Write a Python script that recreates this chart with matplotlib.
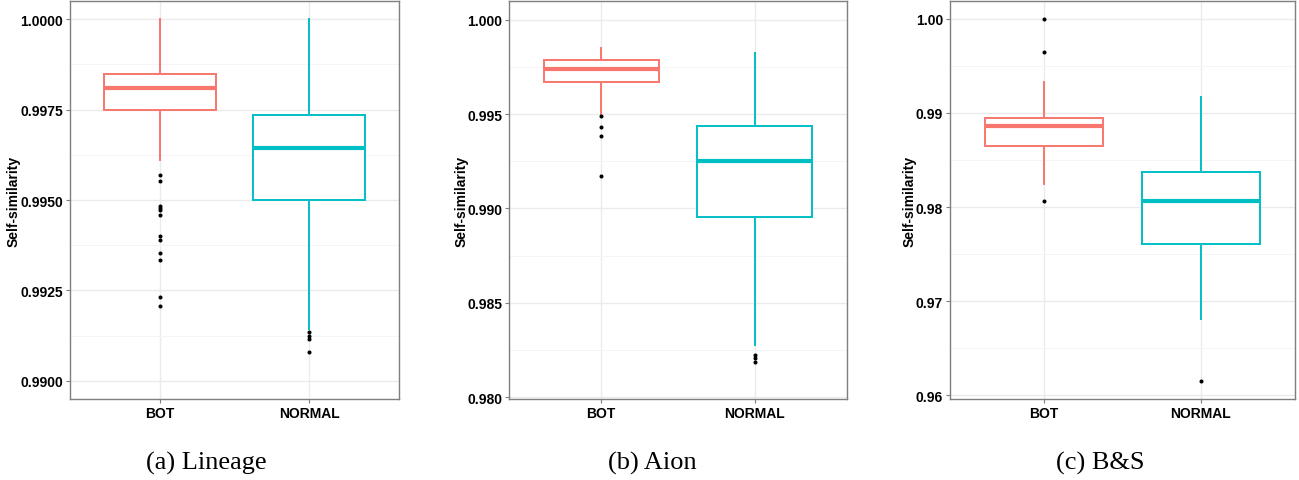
"""Self-similarity box plots for BOT vs NORMAL players in three games."""

import matplotlib
matplotlib.use("Agg")
import matplotlib.pyplot as plt
from matplotlib.ticker import MultipleLocator

groups = ["BOT", "NORMAL"]
colors = ["#F8766D", "#00BFC4"]
games = ["(a) Lineage", "(b) Aion", "(c) B&S"]

# box stats per game: [BOT, NORMAL] -> (whislo, q1, med, q3, whishi)
lineage_stats = [(0.99611, 0.99749, 0.99810, 0.99848, 1.0000),
                 (0.99144, 0.99499, 0.99645, 0.99736, 1.0000)]
lineage_fliers = [[0.99570, 0.99552, 0.99484, 0.99478, 0.99473, 0.99459,
                   0.99401, 0.99389, 0.99354, 0.99335, 0.99233, 0.99206],
                  [0.99134, 0.99125, 0.99116, 0.99081]]

aion_stats = [(0.99503, 0.99673, 0.99742, 0.99785, 0.99853),
              (0.98276, 0.98953, 0.99253, 0.99435, 0.99825)]
aion_fliers = [[0.99488, 0.99430, 0.99383, 0.99170],
               [0.98221, 0.98206, 0.98188]]

bns_stats = [(0.98243, 0.98653, 0.98866, 0.98951, 0.99334),
             (0.96807, 0.97611, 0.98069, 0.98370, 0.99174)]
bns_fliers = [[1.0000, 0.99646, 0.98065],
              [0.96152]]

all_stats = [lineage_stats, aion_stats, bns_stats]
all_fliers = [lineage_fliers, aion_fliers, bns_fliers]

ylims = [(0.98950, 1.00050), (0.97990, 1.00100), (0.95960, 1.00190)]
yticks = [[0.9900, 0.9925, 0.9950, 0.9975, 1.0000],
          [0.980, 0.985, 0.990, 0.995, 1.000],
          [0.96, 0.97, 0.98, 0.99, 1.00]]
ytick_fmt = ["{:.4f}", "{:.3f}", "{:.2f}"]
minor_step = [0.00125, 0.0025, 0.005]

W, H = 1299, 481
# axes boxes in pixels: left, right, top, bottom
boxes_px = [(70, 399, 2, 400), (509, 847, 2, 400), (950, 1295, 2, 400)]
ylabel_x = [-0.149, -0.121, -0.096]
caption_x = [206, 652, 1100]

plt.rcParams["font.family"] = ["Liberation Sans", "DejaVu Sans"]
fig = plt.figure(figsize=(W / 100, H / 100), dpi=100, facecolor="white")

for k in range(3):
    l, r, t, b = boxes_px[k]
    ax = fig.add_axes([l / W, (H - b) / H, (r - l) / W, (b - t) / H])

    stats = []
    for i, g in enumerate(groups):
        lo, q1, med, q3, hi = all_stats[k][i]
        stats.append(dict(label=g, whislo=lo, q1=q1, med=med, q3=q3,
                          whishi=hi, fliers=all_fliers[k][i]))

    for i in range(2):
        c = colors[i]
        ax.bxp([stats[i]], positions=[i + 1], widths=0.75, showcaps=False,
               patch_artist=True,
               boxprops=dict(facecolor="white", edgecolor=c, linewidth=1.4),
               whiskerprops=dict(color=c, linewidth=1.4),
               medianprops=dict(color=c, linewidth=3.0, solid_capstyle="butt"),
               flierprops=dict(marker="o", markersize=1.9, markerfacecolor="black",
                               markeredgecolor="black", linestyle="none"),
               zorder=3)

    ax.set_xlim(0.4, 2.6)
    ax.set_ylim(*ylims[k])
    ax.set_xticks([1, 2])
    ax.set_xticklabels(groups, fontsize=10, fontweight="bold")
    ax.set_yticks(yticks[k])
    ax.set_yticklabels([ytick_fmt[k].format(v) for v in yticks[k]],
                       fontsize=10, fontweight="bold")
    ax.yaxis.set_minor_locator(MultipleLocator(minor_step[k]))
    ax.tick_params(axis="both", which="major", length=3, width=0.8,
                   color="#7f7f7f", pad=2)
    ax.tick_params(axis="y", which="minor", length=0)
    ax.grid(which="major", color="#ebebeb", linewidth=1.0, zorder=0)
    ax.grid(which="minor", axis="y", color="#f5f5f5", linewidth=0.7, zorder=0)
    ax.set_axisbelow(True)
    for spine in ax.spines.values():
        spine.set_color("#7f7f7f")
        spine.set_linewidth(1.0)

    ax.set_ylabel("Self-similarity", fontsize=10, fontweight="bold")
    ax.yaxis.set_label_coords(ylabel_x[k], 0.5)

    fig.text(caption_x[k] / W, (H - 463) / H, games[k], ha="center", va="center",
             fontsize=19, family=["Liberation Serif", "DejaVu Serif"])

fig.savefig("out.png", dpi=100, facecolor="white")
